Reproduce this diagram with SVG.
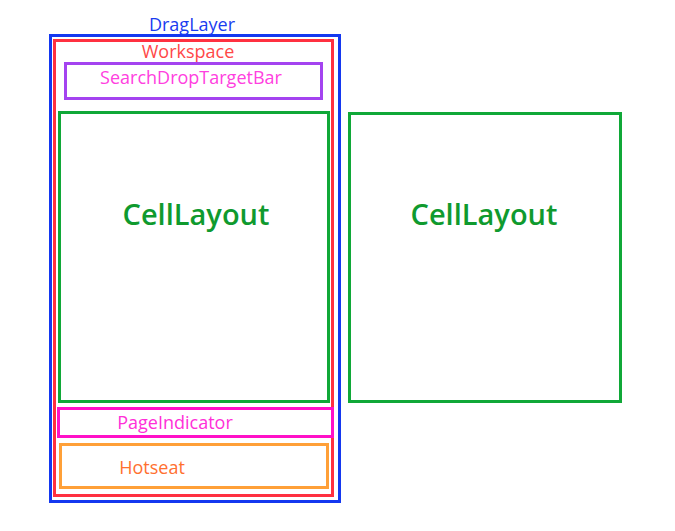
<svg xmlns="http://www.w3.org/2000/svg" width="675" height="531" viewBox="0 0 675 531">
<style>
text{font-family:"Open Sans","Noto Sans",sans-serif;text-anchor:middle}
rect{fill:none;stroke-width:3}
.s{font-size:18px}
.c{font-size:29px;font-weight:600;fill:#0f9a2e}
</style>
<rect x="0" y="0" width="675" height="531" fill="#fff" style="fill:#fff;stroke:none"/>
<g id="draglayer">
<rect x="50.5" y="35.5" width="289" height="466" stroke="#1438f0"/>
<text class="s" x="192" y="31" fill="#1a3cf0">DragLayer</text>
</g>
<g id="workspace">
<rect x="54.5" y="40.5" width="278" height="455" stroke="#ff3040"/>
<text class="s" x="188" y="58" fill="#ff4848">Workspace</text>
</g>
<g id="searchdroptargetbar">
<rect x="65.5" y="63.5" width="256" height="35" stroke="#a443f0"/>
<text class="s" x="191" y="84" fill="#ff40e0">SearchDropTargetBar</text>
</g>
<g id="celllayout1">
<rect x="59.5" y="112.5" width="269" height="289" stroke="#10a838"/>
<text class="c" x="196" y="225">CellLayout</text>
</g>
<g id="celllayout2">
<rect x="349.5" y="113.5" width="271" height="288" stroke="#10a838"/>
<text class="c" x="484" y="225">CellLayout</text>
</g>
<g id="pageindicator">
<rect x="58.5" y="408.5" width="274" height="28" stroke="#ff10c8"/>
<text class="s" x="175" y="429" fill="#ff30d8">PageIndicator</text>
</g>
<g id="hotseat">
<rect x="60.5" y="444.5" width="267" height="43" stroke="#ffa038"/>
<text class="s" x="152" y="474" fill="#ff7030">Hotseat</text>
</g>
<g id="connectors"/>
</svg>
